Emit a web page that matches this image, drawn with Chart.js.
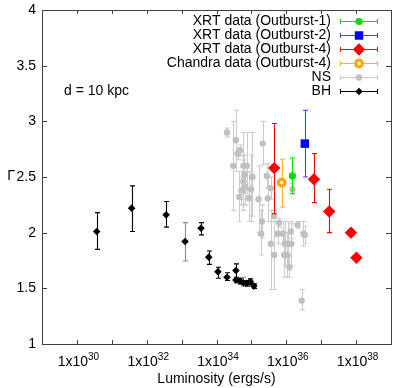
<!DOCTYPE html>
<html><head><meta charset="utf-8">
<script src="https://cdn.jsdelivr.net/npm/chart.js@4/dist/chart.umd.min.js"></script>
<style>html,body{margin:0;padding:0;background:#fff;}</style>
</head><body>
<canvas id="c" width="407" height="388"></canvas>
<script>
// ---- data (luminosity in erg/s, photon index Γ with lower/upper error) ----
const ob1L = [1.5e36];
const ob1G = [2.51];
const ob1Lo = [2.35];
const ob1Hi = [2.67];

const ob2L = [3.4e36];
const ob2G = [2.80];
const ob2Lo = [2.50];
const ob2Hi = [3.10];

const ob4L = [4.5e35, 6.2e36, 1.7e37, 7.1e37, 1.02e38];
const ob4G = [2.58, 2.48, 2.19, 2.00, 1.775];
const ob4Lo = [2.17, 2.27, 2.00, 1.97, 1.75];
const ob4Hi = [2.98, 2.71, 2.39, 2.03, 1.80];

const chL = [7.4e35];
const chG = [2.45];
const chLo = [2.23];
const chHi = [2.66];

const nsL = [2.0e34, 3.6e34, 4.7e34, 4.0e34, 3.0e34, 5.9e34, 7.4e34, 2.1e35, 5.9e34, 6.3e34,
             1.07e35, 5.6e34, 6.6e34, 9.8e34, 8.5e34, 1.6e35, 2.75e35, 2.95e35, 3.55e35, 4.5e35,
             4.5e35, 6.2e35, 1.5e36, 2.1e36, 2.0e35, 1.9e35, 5.6e35, 7.8e35, 1.35e36, 3.1e36,
             3.4e36, 3.6e35, 9.1e35, 1.15e36, 1.4e36, 8.7e35, 1.07e36, 1.23e36, 2.75e36, 5.2e34, 4.5e34];
const nsG = [2.90, 2.83, 2.74, 2.71, 2.60, 2.60, 2.60, 2.80, 2.46, 2.52,
             2.50, 2.38, 2.41, 2.39, 2.31, 2.30, 2.51, 2.31, 2.40, 2.15,
             1.80, 2.09, 2.39, 2.07, 2.10, 1.99, 1.99, 1.99, 2.01, 1.99,
             1.98, 1.90, 1.90, 1.90, 1.90, 1.80, 1.80, 1.69, 1.39, 2.38, 2.32];
const nsLo = [2.86, 2.55, 2.69, 2.66, 2.20, 2.30, 2.35, 2.61, 2.25, 2.35,
              2.15, 2.20, 2.25, 2.10, 2.10, 2.00, 2.40, 2.10, 2.30, 2.10,
              1.49, 2.05, 2.35, 2.04, 1.95, 1.80, 1.90, 1.90, 1.95, 1.88,
              1.90, 1.49, 1.70, 1.70, 1.70, 1.60, 1.60, 1.60, 1.31, 2.25, 2.10];
const nsHi = [2.94, 3.10, 2.79, 2.76, 3.00, 2.90, 2.90, 3.00, 2.65, 2.70,
              2.90, 2.55, 2.55, 2.70, 2.55, 2.60, 2.62, 2.50, 2.50, 2.20,
              2.10, 2.13, 2.44, 2.10, 2.25, 2.20, 2.10, 2.10, 2.08, 2.10,
              2.06, 2.20, 2.10, 2.10, 2.10, 2.00, 2.00, 1.79, 1.49, 2.50, 2.55];

const bhL = [3.7e30, 3.7e31, 3.6e32, 1.26e33, 3.6e33, 6.0e33, 1.1e34, 2.0e34, 3.6e34, 3.6e34,
             4.7e34, 5.9e34, 7.4e34, 9.3e34, 1.17e35];
const bhG = [2.01, 2.22, 2.16, 1.92, 2.04, 1.78, 1.65, 1.60, 1.66, 1.575, 1.565, 1.55, 1.545, 1.56, 1.52];
const bhLo = [1.85, 2.01, 2.05, 1.745, 1.98, 1.715, 1.59, 1.57, 1.59, 1.55, 1.54, 1.52, 1.52, 1.535, 1.50];
const bhHi = [2.18, 2.42, 2.28, 2.09, 2.09, 1.835, 1.69, 1.64, 1.72, 1.60, 1.59, 1.60, 1.57, 1.585, 1.54];

const seriesNames = ['XRT data (Outburst-1)', 'XRT data (Outburst-2)', 'XRT data (Outburst-4)',
                     'Chandra data (Outburst-4)', 'NS', 'BH'];
const xTickExps = [30, 32, 34, 36, 38];
const xMinorExps = [30, 31, 32, 33, 34, 35, 36, 37, 38];
const yTicks = [1, 1.5, 2, 2.5, 3, 3.5, 4];
const yTickLabels = ['1', '1.5', '2', '2.5', '3', '3.5', '4'];
const xTitle = 'Luminosity (ergs/s)';
const yTitle = 'Γ';
const note = 'd = 10 kpc';

// ---- build datasets ----
function pts(L, G, lo, hi) { return L.map((x, i) => ({x: x, y: G[i], lo: lo[i], hi: hi[i]})); }

const FONT = '"Liberation Sans", Arial, Helvetica, sans-serif';

const styles = [
  {color: '#00dd00', bar: '#00e000', style: 'circle', r: 3.6, fill: '#00dd00', bw: 0, order: 1},
  {color: '#0000ff', bar: '#4040ff', style: 'rect', r: 6, fill: '#0000ff', bw: 0, order: 1},
  {color: '#ff0000', bar: '#ff0000', style: 'rectRot', r: 6.2, fill: '#ff0000', bw: 0, order: 0},
  {color: '#ffa500', bar: '#ffb020', style: 'circle', r: 3.4, fill: '#fff3d8', bw: 3, order: 1},
  {color: '#c0c0c0', bar: '#cccccc', style: 'circle', r: 3.2, fill: '#c0c0c0', bw: 0, order: 3},
  {color: '#000000', bar: '#000000', style: 'rectRot', r: 3.8, fill: '#000000', bw: 0, order: 2}
];
const allData = [pts(ob1L, ob1G, ob1Lo, ob1Hi), pts(ob2L, ob2G, ob2Lo, ob2Hi), pts(ob4L, ob4G, ob4Lo, ob4Hi),
                 pts(chL, chG, chLo, chHi), pts(nsL, nsG, nsLo, nsHi), pts(bhL, bhG, bhLo, bhHi)];

const datasets = allData.map((d, i) => ({
  label: seriesNames[i],
  data: d,
  order: styles[i].order,
  pointStyle: styles[i].style,
  pointRadius: styles[i].r,
  pointHoverRadius: styles[i].r,
  backgroundColor: styles[i].fill,
  borderColor: styles[i].color,
  pointBorderWidth: styles[i].bw,
  borderWidth: styles[i].bw,
  showLine: false
}));

const errPlugin = {
  id: 'errbars',
  beforeDatasetDraw(chart, args) {
    const i = args.index;
    const ctx = chart.ctx;
    const xs = chart.scales.x, ys = chart.scales.y;
    const st = styles[i];
    ctx.save();
    ctx.lineWidth = 1.1;
    chart.data.datasets[i].data.forEach((p, k) => {
      const px = Math.round(xs.getPixelForValue(p.x)) + 0.5;
      const y1 = ys.getPixelForValue(p.lo), y2 = ys.getPixelForValue(p.hi);
      ctx.strokeStyle = (i === 5 && (k === 3 || k === 11)) ? '#8a8a8a' : st.bar;
      ctx.beginPath();
      ctx.moveTo(px, y1); ctx.lineTo(px, y2);
      ctx.moveTo(px - 2.5, y1); ctx.lineTo(px + 2.5, y1);
      ctx.moveTo(px - 2.5, y2); ctx.lineTo(px + 2.5, y2);
      ctx.stroke();
    });
    ctx.restore();
  }
};

function drawMarker(ctx, st, x, y) {
  Chart.helpers.drawPoint(ctx, {pointStyle: st.style, radius: st.r, borderWidth: st.bw}, x, y);
}

const framePlugin = {
  id: 'frame',
  afterDraw(chart) {
    const ctx = chart.ctx;
    const a = chart.chartArea;
    const xs = chart.scales.x, ys = chart.scales.y;
    ctx.save();
    // border
    ctx.strokeStyle = '#404040';
    ctx.lineWidth = 1;
    ctx.strokeRect(Math.round(a.left) + 0.5, Math.round(a.top) + 0.5,
                   Math.round(a.right - a.left), Math.round(a.bottom - a.top));
    // ticks (inward, all four sides)
    ctx.beginPath();
    xMinorExps.forEach(e => {
      const px = Math.round(xs.getPixelForValue(Math.pow(10, e))) + 0.5;
      ctx.moveTo(px, a.bottom); ctx.lineTo(px, a.bottom - 4);
      ctx.moveTo(px, a.top); ctx.lineTo(px, a.top + 4);
    });
    yTicks.forEach(v => {
      const py = Math.round(ys.getPixelForValue(v)) + 0.5;
      ctx.moveTo(a.left, py); ctx.lineTo(a.left + 5, py);
      ctx.moveTo(a.right, py); ctx.lineTo(a.right - 5, py);
    });
    ctx.stroke();

    ctx.fillStyle = '#000';
    // y tick labels
    ctx.font = '14px ' + FONT;
    ctx.textAlign = 'right';
    ctx.textBaseline = 'middle';
    yTicks.forEach((v, k) => {
      ctx.fillText(yTickLabels[k], a.left - 6, ys.getPixelForValue(v));
    });
    // x tick labels with superscript
    ctx.textBaseline = 'alphabetic';
    ctx.textAlign = 'left';
    xTickExps.forEach(e => {
      const px = xs.getPixelForValue(Math.pow(10, e));
      ctx.font = '14px ' + FONT;
      const base = '1x10';
      const wb = ctx.measureText(base).width;
      ctx.font = '10px ' + FONT;
      const sup = String(e);
      const ws = ctx.measureText(sup).width;
      const x0 = px - (wb + ws) / 2 + 1.5;
      ctx.font = '14px ' + FONT;
      ctx.fillText(base, x0, a.bottom + 22);
      ctx.font = '10px ' + FONT;
      ctx.fillText(sup, x0 + wb, a.bottom + 16);
    });
    // axis titles
    ctx.font = '14px ' + FONT;
    ctx.textAlign = 'center';
    ctx.fillText(xTitle, (a.left + a.right) / 2, a.bottom + 39);
    ctx.textBaseline = 'middle';
    ctx.fillText(yTitle, 11, (a.top + a.bottom) / 2 - 1);
    // note
    ctx.textAlign = 'left';
    ctx.fillText(note, 64, 91);
    // legend
    seriesNames.forEach((name, k) => {
      const y = 21 + k * 13.9;
      const st = styles[k];
      ctx.fillStyle = '#000';
      ctx.textAlign = 'right';
      ctx.textBaseline = 'middle';
      ctx.font = '14px ' + FONT;
      ctx.fillText(name, 331, y + 0.5);
      const yy = Math.round(y) + 0.5;
      ctx.strokeStyle = st.bar;
      ctx.lineWidth = 1.1;
      ctx.beginPath();
      ctx.moveTo(340, yy); ctx.lineTo(378, yy);
      ctx.moveTo(340.5, yy - 2.5); ctx.lineTo(340.5, yy + 2.5);
      ctx.moveTo(377.5, yy - 2.5); ctx.lineTo(377.5, yy + 2.5);
      ctx.stroke();
      ctx.fillStyle = st.fill;
      ctx.strokeStyle = st.color;
      ctx.lineWidth = st.bw;
      drawMarker(ctx, st, 359, yy);
    });
    ctx.restore();
  }
};

new Chart(document.getElementById('c'), {
  type: 'scatter',
  data: {datasets: datasets},
  options: {
    responsive: false,
    animation: false,
    devicePixelRatio: 1,
    layout: {padding: {left: 42, top: 10, right: 16, bottom: 44}},
    plugins: {legend: {display: false}, tooltip: {enabled: false}},
    scales: {
      x: {type: 'logarithmic', min: 1e29, max: 1e39,
          ticks: {display: false}, grid: {display: false, drawTicks: false}, border: {display: false}},
      y: {type: 'linear', min: 1, max: 4,
          ticks: {display: false}, grid: {display: false, drawTicks: false}, border: {display: false}}
    }
  },
  plugins: [errPlugin, framePlugin]
});
</script>
</body></html>
